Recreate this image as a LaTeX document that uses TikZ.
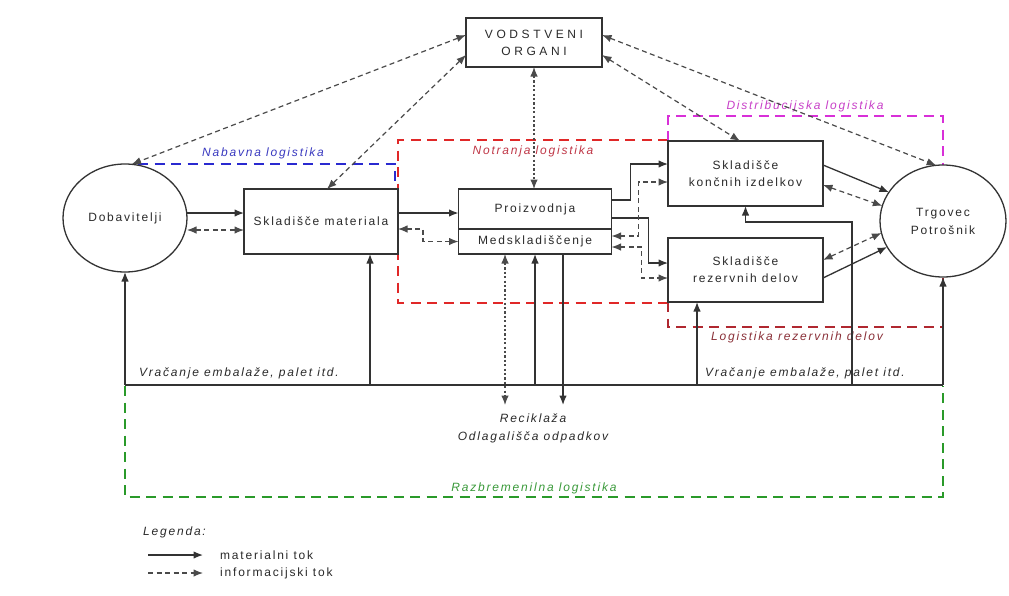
\documentclass[tikz,border=0pt]{standalone}
\usepackage{fontspec}
\setmainfont{Liberation Sans}[LetterSpace=15]
\newfontfamily\wideff{Liberation Sans}[LetterSpace=30]
\usetikzlibrary{arrows.meta,calc,shapes.geometric}
\definecolor{lc}{HTML}{333333}
\definecolor{ic}{HTML}{4A4A4A}
\definecolor{txt}{HTML}{2A2A2A}
\definecolor{fblue}{HTML}{2A2AD0}
\definecolor{fred}{HTML}{E02828}
\definecolor{fmag}{HTML}{D830D8}
\definecolor{fmar}{HTML}{B02830}
\definecolor{fgreen}{HTML}{2A9A2A}
\definecolor{lblue}{HTML}{3A3AC0}
\definecolor{lred}{HTML}{C03848}
\definecolor{lmag}{HTML}{C840C8}
\definecolor{lmar}{HTML}{8A3038}
\definecolor{lgreen}{HTML}{3A9A3A}
\tikzset{
  arr/.tip={Latex[length=9.5pt,width=7.5pt]},
  box/.style={draw=lc, line width=1.4pt, fill=white, inner sep=0pt, outer sep=0pt,
    align=center, text=txt, font=\fontsize{12}{17}\selectfont},
  oval/.style={ellipse, draw=lc, line width=1.3pt, inner sep=0pt, outer sep=0pt,
    align=center, text=txt, font=\fontsize{12}{18}\selectfont},
  mat/.style={draw=lc, line width=1.3pt, -{arr}},
  inf/.style={draw=ic, line width=1.2pt, dash pattern=on 5pt off 3.5pt, {arr}-{arr}},
  infone/.style={draw=ic, line width=1.2pt, dash pattern=on 5pt off 3.5pt, -{arr}},
  dotl/.style={draw=ic, line width=1.2pt, dash pattern=on 2.2pt off 2.2pt, {arr}-{arr}},
  frame/.style={line width=2.6pt, dash pattern=on 10pt off 6.5pt},
  flabel/.style={font=\fontsize{12}{14}\selectfont\itshape, inner sep=0pt},
  ret/.style={font=\fontsize{12}{14}\selectfont\itshape, text=txt, anchor=west, inner sep=0pt},
}
\begin{document}
\begin{tikzpicture}[x=1pt,y=-1pt]
\useasboundingbox[fill=white] (0,0) rectangle (1009,595);

% frames
\draw[frame, fblue] (138,164) -- (395,164) -- (395,189);
\draw[frame, fred] (668,140) -- (398,140) -- (398,303) -- (668,303);
\draw[frame, fmag] (668,141) -- (668,116) -- (943,116) -- (943,165);
\draw[frame, fmar] (668,302) -- (668,327) -- (943,327) -- (943,278);
\draw[frame, fgreen, line width=2.2pt] (125,386) -- (125,497) -- (943,497) -- (943,386);

% frame labels
\node[flabel, text=lblue] (lnab) at (263,153) {Nabavna logistika};
\node[flabel, text=lred] (lnot) at (533,151) {Notranja logistika};
\node[flabel, text=lmag] (ldis) at (805,106) {Distribucijska logistika};
\node[flabel, text=lmar] (lrez) at (797,337) {Logistika rezervnih delov};
\node[flabel, text=lgreen] (lraz) at (534,488) {Razbremenilna logistika};

% nodes
\node[box, minimum width=136pt, minimum height=49pt, font=\fontsize{12}{17}\selectfont\wideff] (vo) at (534,42.5) {VODSTVENI\\ORGANI};
\node[box, minimum width=154pt, minimum height=65pt] (sm) at (321,221.5) {Skladišče materiala};
\node[box, minimum width=153pt, minimum height=40pt] (pr) at (535,209) {Proizvodnja};
\node[box, minimum width=153pt, minimum height=25pt] (md) at (535,241.5) {Medskladiščenje};
\node[box, minimum width=155pt, minimum height=65pt] (ki) at (745.5,173.5) {Skladišče\\končnih izdelkov};
\node[box, minimum width=155pt, minimum height=64pt] (rd) at (745.5,270) {Skladišče\\rezervnih delov};
\node[oval, minimum width=124pt, minimum height=108pt] (dob) at (125,218) {Dobavitelji};
\node[oval, minimum width=126pt, minimum height=112pt] (trg) at (943,221) {Trgovec\\Potrošnik};
\node[anchor=north, inner xsep=0pt, inner ysep=9pt, align=center, text=txt,
  font=\fontsize{12}{18}\selectfont\itshape] (rec) at (533,405) {Reciklaža\\Odlagališča odpadkov};

% return line
\coordinate (bl) at (125,385);
\coordinate (br) at (943,385);
\draw[draw=lc, line width=1.3pt] (bl) -- (br);
\draw[mat] (bl) -- (dob.south);
\draw[mat] (br) -- (trg.south);
\draw[mat] ([xshift=49pt]sm.south |- bl) -- ([xshift=49pt]sm.south);
\draw[mat] (md.south |- bl) -- (md.south);
\draw[mat] ([xshift=-48.5pt]rd.south |- bl) -- ([xshift=-48.5pt]rd.south);
\draw[mat] ([xshift=106.5pt]ki.south |- bl) |- ([yshift=-16pt]ki.south) -- (ki.south);
\draw[mat] ([xshift=28pt]md.south) -- ([xshift=28pt]md.south |- rec.north);
\draw[dotl] ([xshift=-30pt]md.south) -- ([xshift=-30pt]md.south |- rec.north);

\node[ret] (vr1) at (139,373) {Vračanje embalaže, palet itd.};
\node[ret] (vr2) at (705,373) {Vračanje embalaže, palet itd.};

% material and information flows
\draw[mat] ([yshift=8.5pt]sm.west -| dob.east) -- ([yshift=8.5pt]sm.west);
\draw[inf] ([yshift=-8.5pt]sm.west -| dob.east) -- ([yshift=-8.5pt]sm.west);
\draw[mat] ([yshift=8.5pt]sm.east) -- ([yshift=8.5pt]sm.east -| pr.west);
\draw[inf] ([yshift=-7.5pt]sm.east) -- ++(25,0) |- (md.west);
\draw[mat] ([yshift=9pt]pr.east) -- ++(19,0) |- ([yshift=9.5pt]ki.west);
\draw[mat] ([yshift=-9pt]pr.east) -- ++(37,0) |- ([yshift=7pt]rd.west);
\draw[inf] ([yshift=5.5pt]md.east) -- ++(27,0) |- ([yshift=-8.5pt]ki.west);
\draw[inf] ([yshift=-5.5pt]md.east) -- ++(30,0) |- ([yshift=-8pt]rd.west);
\draw[mat] ([yshift=8.5pt]ki.east) -- (trg.152);
\draw[inf] ([yshift=-11.5pt]ki.east) -- (trg.166);
\draw[inf] ([yshift=10pt]rd.east) -- (trg.191);
\draw[mat] ([yshift=-8pt]rd.east) -- (trg.205);

% management
\draw[inf] ([yshift=7.5pt]vo.west) -- (dob.83);
\draw[inf] ([yshift=-12.5pt]vo.west) -- ([xshift=6pt]sm.north);
\draw[inf] ([yshift=7.5pt]vo.east) -- (trg.97);
\draw[inf] ([yshift=-12.5pt]vo.east) -- ([xshift=-5.5pt]ki.north);
\draw[dotl] (vo.south) -- (vo.south |- pr.north);

% legend
\node[ret] (leg) at (143,532) {Legenda:};
\coordinate (l1a) at (148,555);
\coordinate (l1b) at (203,555);
\coordinate (l2a) at (148,573);
\coordinate (l2b) at (203,573);
\draw[mat] (l1a) -- (l1b);
\draw[infone] (l2a) -- (l2b);
\node[anchor=west, inner sep=0pt, text=txt, font=\fontsize{12}{14}\selectfont] (lt1) at (220,555) {materialni tok};
\node[anchor=west, inner sep=0pt, text=txt, font=\fontsize{12}{14}\selectfont] (lt2) at (220,573) {informacijski tok};
\end{tikzpicture}
\end{document}
